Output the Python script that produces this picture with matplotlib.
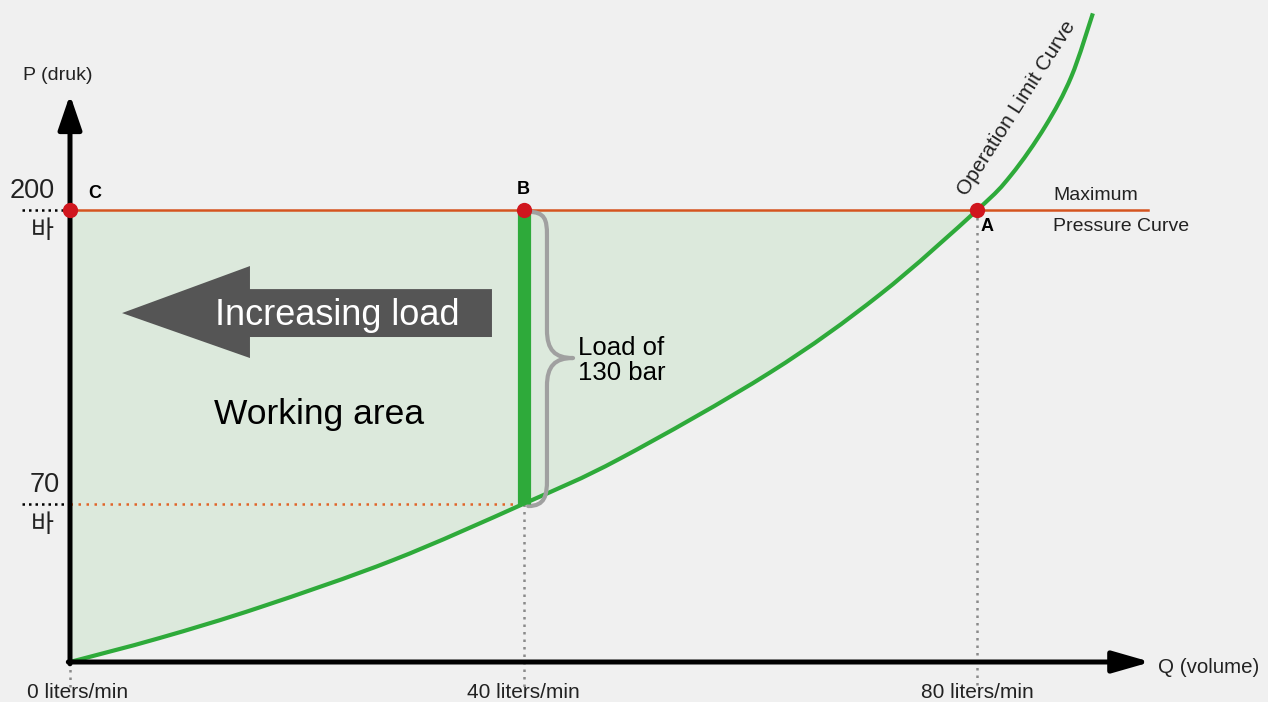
import numpy as np
import matplotlib
matplotlib.use('Agg')
import matplotlib.pyplot as plt
from matplotlib.patches import Polygon, PathPatch
from matplotlib.path import Path

plt.rcParams['font.family'] = ['Liberation Sans', 'Noto Sans CJK KR', 'DejaVu Sans']

# operation limit curve (Q in liters/min, P in bar)
q_curve = [0, 7.9, 16.8, 28.5, 40, 48.5, 61.7, 71.4, 80, 83.0, 86.0, 88.3, 90.2]
p_curve = [0, 10.6, 24.3, 45.1, 70, 90.0, 128.0, 162.5, 200, 215.5, 237, 259, 287]

max_pressure = 200
load_pressure = 70
point_labels = ['C', 'B', 'A']
point_q = [0, 40, 80]
point_p = [200, 200, 200]
q_ticks = [0, 40, 80]
q_tick_labels = ['0 liters/min', '40 liters/min', '80 liters/min']
p_ticks = [200, 70]
p_tick_labels = ['200', '70']

GREEN = '#2eaa3a'
RED_LINE = '#d5541f'
RED_DOT = '#d0161e'
FILL = '#dce9dc'


def smooth_path(xs, ys, stop=None):
    # catmull-rom through the read points, written as cubic bezier segments
    pts = np.column_stack([xs, ys]).astype(float)
    n = len(pts) if stop is None else stop + 1
    verts = [tuple(pts[0])]
    codes = [Path.MOVETO]
    for i in range(n - 1):
        p0 = pts[max(i - 1, 0)]
        p1 = pts[i]
        p2 = pts[i + 1]
        p3 = pts[min(i + 2, len(pts) - 1)]
        c1 = p1 + (p2 - p0) / 6
        c2 = p2 - (p3 - p1) / 6
        verts += [tuple(c1), tuple(c2), tuple(p2)]
        codes += [Path.CURVE4] * 3
    return verts, codes


fig = plt.figure(figsize=(12.68, 7.02), dpi=100)
fig.patch.set_facecolor('#f0f0f0')
ax = fig.add_axes([0, 0, 1, 1])
ax.set_facecolor('#f0f0f0')
# 11.34 px per liter/min, 2.26 px per bar, origin at pixel (70, 662)
ax.set_xlim(-70 / 11.34, (1268 - 70) / 11.34)
ax.set_ylim(-40 / 2.26, 662 / 2.26)
ax.axis('off')

# working area: between the curve and the max pressure line, up to point A
i_a = q_curve.index(80)
fv, fc = smooth_path(q_curve, p_curve, stop=i_a)
fv += [(0, max_pressure), (0, 0)]
fc += [Path.LINETO, Path.CLOSEPOLY]
ax.add_patch(PathPatch(Path(fv, fc), facecolor=FILL, edgecolor='none', zorder=1))

# guide lines
ax.plot([0, 95.06], [max_pressure, max_pressure], color=RED_LINE, lw=1.8, zorder=3)
ax.plot([0, 40], [load_pressure, load_pressure], color='#e0652a', lw=1.8,
        linestyle=(0, (1, 2.2)), zorder=3)
for qt, lo in zip(q_ticks, [0, load_pressure, max_pressure]):
    ax.plot([qt, qt], [lo, -12], color='#8a8a8a', lw=1.8, linestyle=(0, (1, 2)), zorder=2)
for pt in p_ticks:
    ax.plot([-4.23, -0.35], [pt, pt], color='black', lw=1.8, linestyle=(0, (1, 1.6)), zorder=3)

# curve
cv, cc = smooth_path(q_curve, p_curve)
ax.add_patch(PathPatch(Path(cv, cc), facecolor='none', edgecolor=GREEN, lw=3,
                       capstyle='butt', zorder=4))
# load bar at 40 l/min
ax.plot([40, 40], [load_pressure, max_pressure], color=GREEN, lw=9.5,
        solid_capstyle='butt', zorder=5)

# axes with arrows
ax.annotate('', xy=(0, 251), xytext=(0, -0.8),
            arrowprops=dict(arrowstyle='-|>,head_length=1.05,head_width=0.36',
                            lw=3.6, color='black', mutation_scale=20, shrinkA=0, shrinkB=0),
            zorder=6)
ax.annotate('', xy=(95.3, 0), xytext=(-0.15, 0),
            arrowprops=dict(arrowstyle='-|>,head_length=1.15,head_width=0.33',
                            lw=3.6, color='black', mutation_scale=20, shrinkA=0, shrinkB=0),
            zorder=6)

# points
ax.plot(point_q, point_p, 'o', color=RED_DOT, ms=11, mec='none', zorder=7)
label_pos = {'C': (1.59, 207.5, 'left'), 'B': (40, 209, 'center'), 'A': (80.9, 192.5, 'center')}
for lab in point_labels:
    x, y, ha = label_pos[lab]
    ax.text(x, y, lab, fontsize=13, fontweight='bold', ha=ha, va='center', zorder=8)

# brace
verts = [(40.4, 199.2), (41.9, 199.2), (42.06, 195.6), (42.06, 189),
         (42.06, 147), (42.06, 138), (42.76, 134.5), (44.36, 134.5),
         (42.76, 134.5), (42.06, 131), (42.06, 122),
         (42.06, 80.5), (42.06, 73.9), (41.9, 69), (40.4, 69)]
codes = [Path.MOVETO, Path.CURVE4, Path.CURVE4, Path.CURVE4,
         Path.LINETO, Path.CURVE4, Path.CURVE4, Path.CURVE4,
         Path.CURVE4, Path.CURVE4, Path.CURVE4,
         Path.LINETO, Path.CURVE4, Path.CURVE4, Path.CURVE4]
ax.add_patch(PathPatch(Path(verts, codes), facecolor='none', edgecolor='#a0a0a0',
                       lw=3, zorder=4, capstyle='round', joinstyle='round'))
ax.text(44.8, 133.5, 'Load of\n130 bar', fontsize=18.5, ha='left', va='center',
        linespacing=1.05, zorder=8)

# increasing load arrow
arrow = Polygon([(4.59, 154.4), (15.87, 175.2), (15.87, 165.0), (37.21, 165.0),
                 (37.21, 143.8), (15.87, 143.8), (15.87, 134.5)],
                closed=True, facecolor='#555555', edgecolor='none', zorder=5)
ax.add_patch(arrow)
ax.text(23.6, 153.4, 'Increasing load', fontsize=26, color='white',
        ha='center', va='center', zorder=6)
ax.text(21.96, 109.5, 'Working area', fontsize=25.5, ha='center', va='center', zorder=6)

# y tick labels
for pt, lab in zip(p_ticks, p_tick_labels):
    xc = -3.3 if lab == '200' else -2.2
    ax.text(xc, pt + 2.5, lab, fontsize=19.5, ha='center', va='bottom', color='#222222')
    ax.text(-2.4, pt - 4.0, '바', fontsize=18, ha='center', va='top', color='#222222')

# x tick labels
for qt, lab in zip(q_ticks, q_tick_labels):
    xc = qt + 0.7 if qt == 0 else qt
    ax.text(xc, -13.3, lab, fontsize=15, ha='center', va='center', color='#222222')

ax.text(-1.06, 259.7, 'P (druk)', fontsize=14, ha='center', va='center', color='#222222')
ax.text(95.9, -2.65, 'Q (volume)', fontsize=14.8, ha='left', va='center', color='#222222')
ax.text(86.7, 206.6, 'Maximum', fontsize=14, ha='left', va='center', color='#222222')
ax.text(86.7, 192.5, 'Pressure Curve', fontsize=14, ha='left', va='center', color='#222222')
ax.text(83.5, 245, 'Operation Limit Curve', fontsize=15, rotation=57.5,
        ha='center', va='center', rotation_mode='anchor', color='#222222')

fig.savefig('out.png', dpi=100, facecolor=fig.get_facecolor())
